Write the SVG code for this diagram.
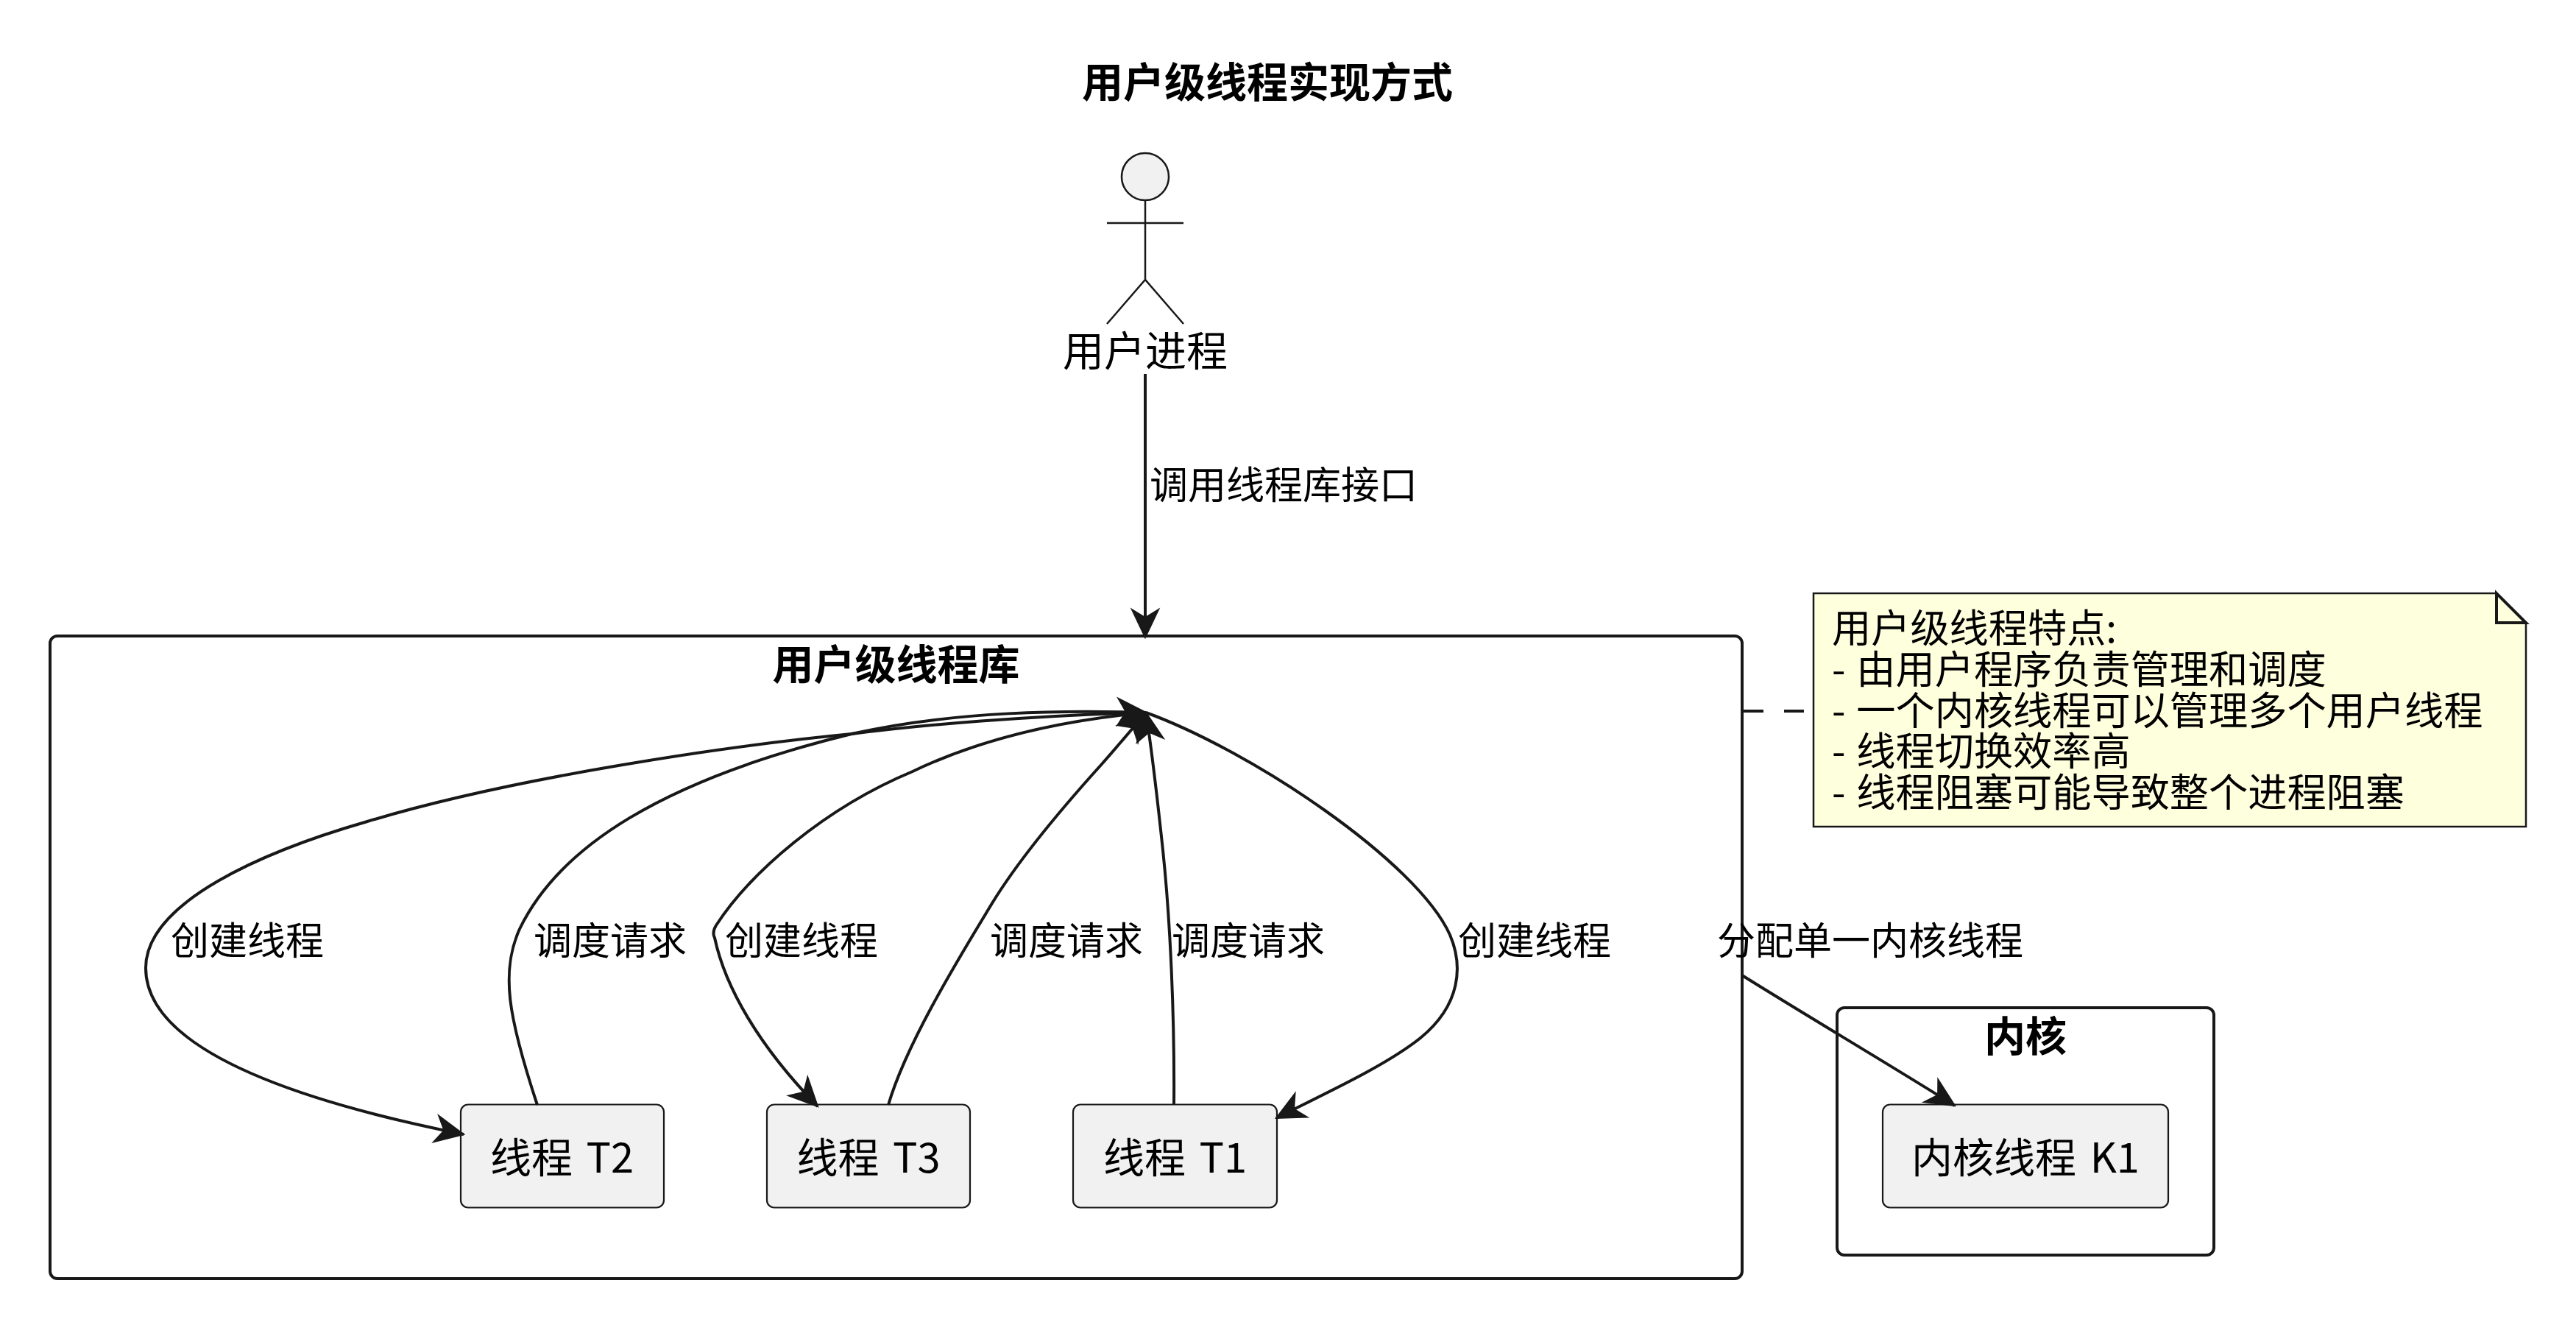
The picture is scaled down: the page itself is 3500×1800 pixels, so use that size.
<svg xmlns="http://www.w3.org/2000/svg" width="3500" height="1800" viewBox="0 0 3500 1800">
<style>
text{font-family:"Noto Sans CJK SC","Noto Sans",sans-serif;fill:#000}
.t{font-weight:700;font-size:56px;text-anchor:middle}
.n{font-size:56px;text-anchor:middle;word-spacing:6px}
.l{font-size:52px}
.m{font-size:53.2px;word-spacing:3px}
.g{fill:none;stroke:#181818;stroke-width:4}
.b{fill:#F1F1F1;stroke:#181818;stroke-width:2.2}
.e{fill:none;stroke:#181818;stroke-width:4;marker-end:url(#a)}
</style>
<defs>
<marker id="a" markerUnits="userSpaceOnUse" markerWidth="44" markerHeight="44" refX="38" refY="20" orient="auto" viewBox="0 0 44 40" overflow="visible"><path d="M0 2L38 20L0 38L11 20Z" fill="#181818" stroke="#181818" stroke-width="2"/></marker>
</defs>
<rect width="3500" height="1800" fill="#fff"/>
<text class="t" x="1722" y="132">用户级线程实现方式</text>
<g id="group-lib"><rect class="g" x="68" y="864" width="2299" height="873" rx="10"/><text class="t" x="1217.5" y="923">用户级线程库</text></g>
<g id="group-kernel"><rect class="g" x="2496" y="1369" width="512" height="336" rx="10"/><text class="t" x="2752" y="1428">内核</text></g>
<g id="actor" fill="none" stroke="#181818" stroke-width="2.5"><circle cx="1556" cy="240" r="32" fill="#F1F1F1"/><path d="M1556 272V380M1504 303H1608M1504 440L1556 380L1608 440"/><text class="n" x="1556" y="497" stroke="none">用户进程</text></g>
<g id="T2"><rect class="b" x="626" y="1500.5" width="276" height="140" rx="10"/><text class="n" x="763.5" y="1593">线程 T2</text></g>
<g id="T3"><rect class="b" x="1042" y="1500.5" width="276" height="140" rx="10"/><text class="n" x="1180" y="1593">线程 T3</text></g>
<g id="T1"><rect class="b" x="1458" y="1500.5" width="277" height="140" rx="10"/><text class="n" x="1596.5" y="1593">线程 T1</text></g>
<g id="K1"><rect class="b" x="2558" y="1500.5" width="388" height="140" rx="10"/><text class="n" x="2752" y="1593">内核线程 K1</text></g>
<g id="note"><path d="M2464 806H3392L3432 846V1123H2464Z" fill="#FEFFDD" stroke="#181818" stroke-width="2.5"/><path d="M3392 806V846H3432Z" fill="#FEFFDD" stroke="#181818" stroke-width="4"/>
<text class="m" x="2489" y="873">用户级线程特点:</text>
<text class="m" x="2489" y="929">- 由用户程序负责管理和调度</text>
<text class="m" x="2489" y="985">- 一个内核线程可以管理多个用户线程</text>
<text class="m" x="2489" y="1040">- 线程切换效率高</text>
<text class="m" x="2489" y="1096">- 线程阻塞可能导致整个进程阻塞</text></g>
<g id="connectors">
<path class="e" d="M1556 508V866"/>
<path class="e" d="M1557 968C1400 972 1250 985 1157 997C1000 1012 700 1055 499 1116C360 1156 198 1225 198 1315C198 1425 400 1495 630 1541"/>
<path class="e" d="M730 1501C690 1380 680 1320 706 1262C760 1150 900 1060 1157 997C1300 965 1450 965 1557 968"/>
<path class="e" d="M1557 968C1450 978 1340 1000 1240 1048C1120 1098 1020 1185 973 1257C968 1265 969 1270 971 1274C985 1340 1030 1420 1111 1503"/>
<path class="e" d="M1207 1501C1232 1415 1310 1290 1348 1227C1386 1165 1450 1090 1497 1038C1520 1012 1540 988 1557 968"/>
<path class="e" d="M1595 1501C1596 1380 1590 1250 1580 1155C1572 1080 1565 1020 1557 968"/>
<path class="e" d="M1557 968C1700 1020 1925 1170 1970 1270C1988 1312 1985 1365 1930 1410C1880 1450 1790 1490 1734 1519"/>
<path class="e" d="M2367 1325C2460 1383 2560 1442 2656 1502"/>
<path d="M2369 966H2453" fill="none" stroke="#181818" stroke-width="4" stroke-dasharray="27 28"/>
</g>
<g id="labels">
<text class="l" x="1562" y="678">调用线程库接口</text>
<text class="l" x="232" y="1297">创建线程</text>
<text class="l" x="725" y="1297">调度请求</text>
<text class="l" x="985" y="1297">创建线程</text>
<text class="l" x="1345" y="1297">调度请求</text>
<text class="l" x="1592" y="1297">调度请求</text>
<text class="l" x="1981" y="1297">创建线程</text>
<text class="l" x="2333" y="1297">分配单一内核线程</text>
</g>
</svg>
